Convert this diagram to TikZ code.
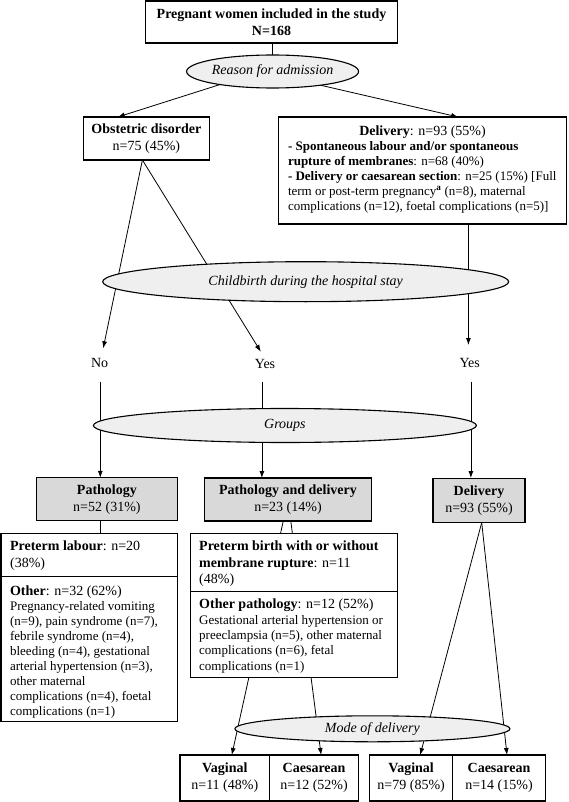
\documentclass[tikz,border=0pt]{standalone}
\usepackage{fontspec}
\setmainfont{Liberation Serif}
\usetikzlibrary{shapes.geometric,arrows.meta,calc}
\pgfdeclarelayer{bg}
\pgfsetlayers{bg,main}
\definecolor{boxgray}{HTML}{D9D9D9}
\definecolor{ellgray}{HTML}{EFEFEF}
\newcommand\fsH{\fontsize{14}{17}\selectfont}
\newcommand\fsB{\fontsize{13}{15}\selectfont}
\begin{document}
\begin{tikzpicture}[x=1pt,y=-1pt,
  frame/.style={draw, line width=1.1pt, fill=white, inner sep=0pt, outer sep=0pt, align=center, font=\fsH},
  grayframe/.style={frame, fill=boxgray},
  oval/.style={ellipse, draw, line width=1.1pt, fill=ellgray, inner sep=0pt, outer sep=0pt},
  ovaltext/.style={inner sep=0pt, font=\fsH\itshape},
  conn/.style={line width=0.8pt},
  arr/.style={conn, -{Latex[length=7pt,width=5pt]}},
  txt/.style={inner sep=0pt, outer sep=0pt, align=left},
  lbl/.style={inner sep=0pt, font=\fsH}
]
\useasboundingbox (0,0) rectangle (568,802);

% top
\node[frame, minimum width=252pt, minimum height=42pt] (top) at (271.5,22)
  {\textbf{Pregnant women included in the study}\\\textbf{N=168}};
\node[oval, minimum width=172pt, minimum height=33pt] (reason) at (272.6,71.5) {};
\node[ovaltext] (reasonT) at (reason) {Reason for admission};

\node[frame, minimum width=126pt, minimum height=43pt] (obst) at (146.4,138.5)
  {\textbf{Obstetric disorder}\\n=75 (45\%)};

\node[frame, minimum width=288.6pt, minimum height=107pt] (deliv) at (422.5,170.5) {};
\node[txt, anchor=base, font=\fsH] (delivH) at (422.5,135.5) {\textbf{Delivery}: n=93 (55\%)};
\node[txt, anchor=north west, font=\fsB] (delivB) at (288,141.2)
  {\textbf{- Spontaneous labour and/or spontaneous}\\
   \textbf{rupture of membranes}: n=68 (40\%)\\
   \textbf{- Delivery or caesarean section}: n=25 (15\%) [Full\\
   term or post-term pregnancy\textsuperscript{\textbf{a}} (n=8), maternal\\
   complications (n=12), foetal complications (n=5)]};

\node[oval, minimum width=406pt, minimum height=40pt] (child) at (305.7,281.7) {};
\node[ovaltext] (childT) at (child) {Childbirth during the hospital stay};

\node[lbl] (no) at (99.6,363.3) {No};
\node[lbl] (yes1) at (265,363.7) {Yes};
\node[lbl] (yes3) at (469.7,362.7) {Yes};
\coordinate (noT) at (103.2,348.3);
\coordinate (yesT) at (260.8,351.7);
\coordinate (yes3T) at (468.4,345);
\coordinate (noB) at (100.3,381.7);
\coordinate (yesB) at (261.9,381.7);
\coordinate (yes3B) at (470.9,381.7);

\node[oval, minimum width=383pt, minimum height=34pt] (groups) at (284.9,425.5) {};
\node[ovaltext] (groupsT) at (groups) {Groups};

\node[grayframe, minimum width=141pt, minimum height=43pt] (path) at (106.9,499.3)
  {\textbf{Pathology}\\n=52 (31\%)};
\node[grayframe, minimum width=167pt, minimum height=43pt] (pd) at (288,499.5)
  {\textbf{Pathology and delivery}\\n=23 (14\%)};
\node[grayframe, minimum width=92pt, minimum height=44.5pt] (deliv2) at (479,500.3)
  {\textbf{Delivery}\\n=93 (55\%)};

% left detail box
\node[frame, minimum width=176.5pt, minimum height=188.4pt] (det1) at (89.25,627.5) {};
\draw[line width=1.1pt] ($(det1.north west)+(0,43.4)$) -- ($(det1.north east)+(0,43.4)$);
\node[txt, anchor=north west, font=\fsH] (det1H) at (10.1,541)
  {\textbf{Preterm labour}: n=20\\(38\%)};
\node[txt, anchor=base west, font=\fsH] (det1O) at (10.1,595.5)
  {\textbf{Other}: n=32 (62\%)};
\node[txt, anchor=north west, font=\fsB] (det1B) at (10.1,601.3)
  {Pregnancy-related vomiting\\
   (n=9), pain syndrome (n=7),\\
   febrile syndrome (n=4),\\
   bleeding (n=4), gestational\\
   arterial hypertension (n=3),\\
   other maternal\\
   complications (n=4), foetal\\
   complications (n=1)};

% middle detail box
\node[frame, minimum width=207.5pt, minimum height=144pt] (det2) at (293.95,605.3) {};
\draw[line width=1.1pt] ($(det2.north west)+(0,58.4)$) -- ($(det2.north east)+(0,58.4)$);
\node[txt, anchor=north west, font=\fontsize{14}{16.5}\selectfont] (det2H) at (199.2,541)
  {\textbf{Preterm birth with or without}\\\textbf{membrane rupture}: n=11\\(48\%)};
\node[txt, anchor=base west, font=\fsH] (det2O) at (199.2,608.8)
  {\textbf{Other pathology}: n=12 (52\%)};
\node[txt, anchor=north west, font=\fontsize{13}{15.2}\selectfont] (det2B) at (199.2,615.4)
  {Gestational arterial hypertension or\\
   preeclampsia (n=5), other maternal\\
   complications (n=6), fetal\\
   complications (n=1)};

\node[oval, minimum width=275pt, minimum height=26pt] (mode) at (372.4,728.8) {};
\node[ovaltext] (modeT) at (mode) {Mode of delivery};

\node[frame, minimum width=89.6pt, minimum height=46pt] (vag1) at (224.8,778) {\textbf{Vaginal}\\n=11 (48\%)};
\node[frame, minimum width=89pt, minimum height=46pt] (ces1) at (314.1,778) {\textbf{Caesarean}\\n=12 (52\%)};
\node[frame, minimum width=83.3pt, minimum height=46pt] (vag2) at (411.15,778) {\textbf{Vaginal}\\n=79 (85\%)};
\node[frame, minimum width=92.4pt, minimum height=46pt] (ces2) at (499,778) {\textbf{Caesarean}\\n=14 (15\%)};

\begin{pgfonlayer}{bg}
\draw[conn] (reason.center |- top.south) -- (reason.center);
\coordinate (rsrc) at ($(reason.center)+(-11.5,0)$);
\draw[arr] (rsrc) -- ($(obst.north west)+(34.4,0)$);
\draw[arr] (rsrc) -- ($(deliv.north west)+(180,0)$);
\coordinate (oA) at ($(obst.south)+(-4,0)$);
\draw[arr] (oA) -- (noT);
\draw[arr] (oA) -- (yesT);
\draw[arr] (deliv.south -| yes3T) -- (yes3T);
\draw[arr] (noB) -- (noB |- path.north);
\draw[arr] (yesB) -- (yesB |- pd.north);
\draw[arr] (yes3B) -- (yes3B |- deliv2.north);
\draw[conn] (noB |- path.south) -- (noB |- det1.north);
\draw[arr] (pd.center) -- ($(vag1.north)+(7,0)$);
\draw[arr] (pd.center) -- ($(ces1.north)+(7,0)$);
\coordinate (dA) at ($(deliv2.south)+(2.7,0)$);
\draw[arr] (dA) -- ($(vag2.north)+(9,0)$);
\draw[arr] (dA) -- ($(ces2.north)+(8,0)$);
\end{pgfonlayer}
\end{tikzpicture}
\end{document}
